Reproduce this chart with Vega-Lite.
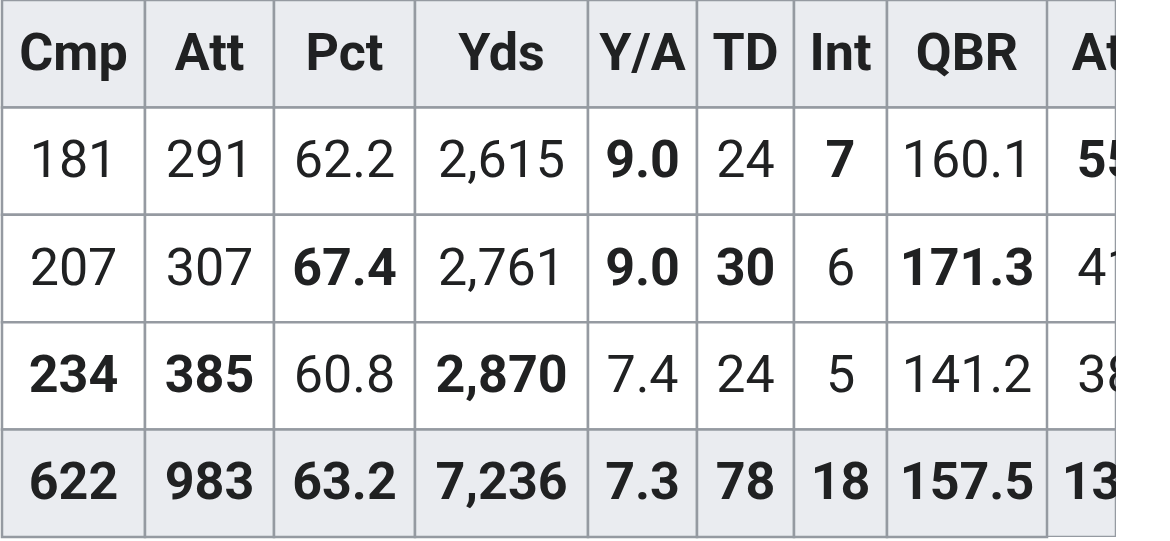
{
  "$schema": "https://vega.github.io/schema/vega-lite/v6.json",
  "background": "white",
  "padding": {"left": 0, "top": -2, "right": 0, "bottom": 0},
  "bounds": "flush",
  "spacing": 0,
  "config": {"view": {"stroke": null}, "concat": {"spacing": 0}},
  "data": {
    "values": [
      {"row": "header", "col": "Cmp", "val": "Cmp"},
      {"row": "header", "col": "Att", "val": "Att"},
      {"row": "header", "col": "Pct", "val": "Pct"},
      {"row": "header", "col": "Yds", "val": "Yds"},
      {"row": "header", "col": "Y/A", "val": "Y/A"},
      {"row": "header", "col": "TD", "val": "TD"},
      {"row": "header", "col": "Int", "val": "Int"},
      {"row": "header", "col": "QBR", "val": "QBR"},
      {"row": "header", "col": "RushAtt", "val": "Att"},

      {"row": "season1", "col": "Cmp", "val": "181"},
      {"row": "season1", "col": "Att", "val": "291"},
      {"row": "season1", "col": "Pct", "val": "62.2"},
      {"row": "season1", "col": "Yds", "val": "2,615"},
      {"row": "season1", "col": "Y/A", "val": "9.0", "lead": true},
      {"row": "season1", "col": "TD", "val": "24"},
      {"row": "season1", "col": "Int", "val": "7", "lead": true},
      {"row": "season1", "col": "QBR", "val": "160.1"},
      {"row": "season1", "col": "RushAtt", "val": "55", "lead": true},

      {"row": "season2", "col": "Cmp", "val": "207"},
      {"row": "season2", "col": "Att", "val": "307"},
      {"row": "season2", "col": "Pct", "val": "67.4", "lead": true},
      {"row": "season2", "col": "Yds", "val": "2,761"},
      {"row": "season2", "col": "Y/A", "val": "9.0", "lead": true},
      {"row": "season2", "col": "TD", "val": "30", "lead": true},
      {"row": "season2", "col": "Int", "val": "6"},
      {"row": "season2", "col": "QBR", "val": "171.3", "lead": true},
      {"row": "season2", "col": "RushAtt", "val": "41"},

      {"row": "season3", "col": "Cmp", "val": "234", "lead": true},
      {"row": "season3", "col": "Att", "val": "385", "lead": true},
      {"row": "season3", "col": "Pct", "val": "60.8"},
      {"row": "season3", "col": "Yds", "val": "2,870", "lead": true},
      {"row": "season3", "col": "Y/A", "val": "7.4"},
      {"row": "season3", "col": "TD", "val": "24"},
      {"row": "season3", "col": "Int", "val": "5"},
      {"row": "season3", "col": "QBR", "val": "141.2"},
      {"row": "season3", "col": "RushAtt", "val": "38"},

      {"row": "career", "col": "Cmp", "val": "622"},
      {"row": "career", "col": "Att", "val": "983"},
      {"row": "career", "col": "Pct", "val": "63.2"},
      {"row": "career", "col": "Yds", "val": "7,236"},
      {"row": "career", "col": "Y/A", "val": "7.3"},
      {"row": "career", "col": "TD", "val": "78"},
      {"row": "career", "col": "Int", "val": "18"},
      {"row": "career", "col": "QBR", "val": "157.5"},
      {"row": "career", "col": "RushAtt", "val": "134"}
    ]
  },
  "hconcat": [
    {
      "width": 143, "height": 537,
      "transform": [{"filter": "datum.col == 'Cmp'"}],
      "encoding": {
        "x": {"field": "col", "type": "nominal", "axis": null, "scale": {"paddingInner": 0, "paddingOuter": 0}},
        "y": {"field": "row", "type": "nominal", "axis": null, "sort": ["header", "season1", "season2", "season3", "career"], "scale": {"paddingInner": 0, "paddingOuter": 0}}
      },
      "layer": [
        {"mark": {"type": "rect", "stroke": "#959aa1", "strokeWidth": 2.5},
         "encoding": {"fill": {"condition": {"test": "datum.row == 'header' || datum.row == 'career'", "value": "#eaecf0"}, "value": "#ffffff"}}},
        {"transform": [{"filter": "datum.lead || datum.row == 'header' || datum.row == 'career'"}],
         "mark": {"type": "text", "font": "Roboto", "fontSize": 52, "fontWeight": "bold", "color": "#202122", "baseline": "middle"},
         "encoding": {"text": {"field": "val"}}},
        {"transform": [{"filter": "!(datum.lead || datum.row == 'header' || datum.row == 'career')"}],
         "mark": {"type": "text", "font": "Roboto", "fontSize": 52, "color": "#202122", "baseline": "middle"},
         "encoding": {"text": {"field": "val"}}}
      ]
    },
    {
      "width": 129, "height": 537,
      "transform": [{"filter": "datum.col == 'Att'"}],
      "encoding": {
        "x": {"field": "col", "type": "nominal", "axis": null, "scale": {"paddingInner": 0, "paddingOuter": 0}},
        "y": {"field": "row", "type": "nominal", "axis": null, "sort": ["header", "season1", "season2", "season3", "career"], "scale": {"paddingInner": 0, "paddingOuter": 0}}
      },
      "layer": [
        {"mark": {"type": "rect", "stroke": "#959aa1", "strokeWidth": 2.5},
         "encoding": {"fill": {"condition": {"test": "datum.row == 'header' || datum.row == 'career'", "value": "#eaecf0"}, "value": "#ffffff"}}},
        {"transform": [{"filter": "datum.lead || datum.row == 'header' || datum.row == 'career'"}],
         "mark": {"type": "text", "font": "Roboto", "fontSize": 52, "fontWeight": "bold", "color": "#202122", "baseline": "middle"},
         "encoding": {"text": {"field": "val"}}},
        {"transform": [{"filter": "!(datum.lead || datum.row == 'header' || datum.row == 'career')"}],
         "mark": {"type": "text", "font": "Roboto", "fontSize": 52, "color": "#202122", "baseline": "middle"},
         "encoding": {"text": {"field": "val"}}}
      ]
    },
    {
      "width": 141, "height": 537,
      "transform": [{"filter": "datum.col == 'Pct'"}],
      "encoding": {
        "x": {"field": "col", "type": "nominal", "axis": null, "scale": {"paddingInner": 0, "paddingOuter": 0}},
        "y": {"field": "row", "type": "nominal", "axis": null, "sort": ["header", "season1", "season2", "season3", "career"], "scale": {"paddingInner": 0, "paddingOuter": 0}}
      },
      "layer": [
        {"mark": {"type": "rect", "stroke": "#959aa1", "strokeWidth": 2.5},
         "encoding": {"fill": {"condition": {"test": "datum.row == 'header' || datum.row == 'career'", "value": "#eaecf0"}, "value": "#ffffff"}}},
        {"transform": [{"filter": "datum.lead || datum.row == 'header' || datum.row == 'career'"}],
         "mark": {"type": "text", "font": "Roboto", "fontSize": 52, "fontWeight": "bold", "color": "#202122", "baseline": "middle"},
         "encoding": {"text": {"field": "val"}}},
        {"transform": [{"filter": "!(datum.lead || datum.row == 'header' || datum.row == 'career')"}],
         "mark": {"type": "text", "font": "Roboto", "fontSize": 52, "color": "#202122", "baseline": "middle"},
         "encoding": {"text": {"field": "val"}}}
      ]
    },
    {
      "width": 173, "height": 537,
      "transform": [{"filter": "datum.col == 'Yds'"}],
      "encoding": {
        "x": {"field": "col", "type": "nominal", "axis": null, "scale": {"paddingInner": 0, "paddingOuter": 0}},
        "y": {"field": "row", "type": "nominal", "axis": null, "sort": ["header", "season1", "season2", "season3", "career"], "scale": {"paddingInner": 0, "paddingOuter": 0}}
      },
      "layer": [
        {"mark": {"type": "rect", "stroke": "#959aa1", "strokeWidth": 2.5},
         "encoding": {"fill": {"condition": {"test": "datum.row == 'header' || datum.row == 'career'", "value": "#eaecf0"}, "value": "#ffffff"}}},
        {"transform": [{"filter": "datum.lead || datum.row == 'header' || datum.row == 'career'"}],
         "mark": {"type": "text", "font": "Roboto", "fontSize": 52, "fontWeight": "bold", "color": "#202122", "baseline": "middle"},
         "encoding": {"text": {"field": "val"}}},
        {"transform": [{"filter": "!(datum.lead || datum.row == 'header' || datum.row == 'career')"}],
         "mark": {"type": "text", "font": "Roboto", "fontSize": 52, "color": "#202122", "baseline": "middle"},
         "encoding": {"text": {"field": "val"}}}
      ]
    },
    {
      "width": 109, "height": 537,
      "transform": [{"filter": "datum.col == 'Y/A'"}],
      "encoding": {
        "x": {"field": "col", "type": "nominal", "axis": null, "scale": {"paddingInner": 0, "paddingOuter": 0}},
        "y": {"field": "row", "type": "nominal", "axis": null, "sort": ["header", "season1", "season2", "season3", "career"], "scale": {"paddingInner": 0, "paddingOuter": 0}}
      },
      "layer": [
        {"mark": {"type": "rect", "stroke": "#959aa1", "strokeWidth": 2.5},
         "encoding": {"fill": {"condition": {"test": "datum.row == 'header' || datum.row == 'career'", "value": "#eaecf0"}, "value": "#ffffff"}}},
        {"transform": [{"filter": "datum.lead || datum.row == 'header' || datum.row == 'career'"}],
         "mark": {"type": "text", "font": "Roboto", "fontSize": 52, "fontWeight": "bold", "color": "#202122", "baseline": "middle"},
         "encoding": {"text": {"field": "val"}}},
        {"transform": [{"filter": "!(datum.lead || datum.row == 'header' || datum.row == 'career')"}],
         "mark": {"type": "text", "font": "Roboto", "fontSize": 52, "color": "#202122", "baseline": "middle"},
         "encoding": {"text": {"field": "val"}}}
      ]
    },
    {
      "width": 97, "height": 537,
      "transform": [{"filter": "datum.col == 'TD'"}],
      "encoding": {
        "x": {"field": "col", "type": "nominal", "axis": null, "scale": {"paddingInner": 0, "paddingOuter": 0}},
        "y": {"field": "row", "type": "nominal", "axis": null, "sort": ["header", "season1", "season2", "season3", "career"], "scale": {"paddingInner": 0, "paddingOuter": 0}}
      },
      "layer": [
        {"mark": {"type": "rect", "stroke": "#959aa1", "strokeWidth": 2.5},
         "encoding": {"fill": {"condition": {"test": "datum.row == 'header' || datum.row == 'career'", "value": "#eaecf0"}, "value": "#ffffff"}}},
        {"transform": [{"filter": "datum.lead || datum.row == 'header' || datum.row == 'career'"}],
         "mark": {"type": "text", "font": "Roboto", "fontSize": 52, "fontWeight": "bold", "color": "#202122", "baseline": "middle"},
         "encoding": {"text": {"field": "val"}}},
        {"transform": [{"filter": "!(datum.lead || datum.row == 'header' || datum.row == 'career')"}],
         "mark": {"type": "text", "font": "Roboto", "fontSize": 52, "color": "#202122", "baseline": "middle"},
         "encoding": {"text": {"field": "val"}}}
      ]
    },
    {
      "width": 93, "height": 537,
      "transform": [{"filter": "datum.col == 'Int'"}],
      "encoding": {
        "x": {"field": "col", "type": "nominal", "axis": null, "scale": {"paddingInner": 0, "paddingOuter": 0}},
        "y": {"field": "row", "type": "nominal", "axis": null, "sort": ["header", "season1", "season2", "season3", "career"], "scale": {"paddingInner": 0, "paddingOuter": 0}}
      },
      "layer": [
        {"mark": {"type": "rect", "stroke": "#959aa1", "strokeWidth": 2.5},
         "encoding": {"fill": {"condition": {"test": "datum.row == 'header' || datum.row == 'career'", "value": "#eaecf0"}, "value": "#ffffff"}}},
        {"transform": [{"filter": "datum.lead || datum.row == 'header' || datum.row == 'career'"}],
         "mark": {"type": "text", "font": "Roboto", "fontSize": 52, "fontWeight": "bold", "color": "#202122", "baseline": "middle"},
         "encoding": {"text": {"field": "val"}}},
        {"transform": [{"filter": "!(datum.lead || datum.row == 'header' || datum.row == 'career')"}],
         "mark": {"type": "text", "font": "Roboto", "fontSize": 52, "color": "#202122", "baseline": "middle"},
         "encoding": {"text": {"field": "val"}}}
      ]
    },
    {
      "width": 160, "height": 537,
      "transform": [{"filter": "datum.col == 'QBR'"}],
      "encoding": {
        "x": {"field": "col", "type": "nominal", "axis": null, "scale": {"paddingInner": 0, "paddingOuter": 0}},
        "y": {"field": "row", "type": "nominal", "axis": null, "sort": ["header", "season1", "season2", "season3", "career"], "scale": {"paddingInner": 0, "paddingOuter": 0}}
      },
      "layer": [
        {"mark": {"type": "rect", "stroke": "#959aa1", "strokeWidth": 2.5},
         "encoding": {"fill": {"condition": {"test": "datum.row == 'header' || datum.row == 'career'", "value": "#eaecf0"}, "value": "#ffffff"}}},
        {"transform": [{"filter": "datum.lead || datum.row == 'header' || datum.row == 'career'"}],
         "mark": {"type": "text", "font": "Roboto", "fontSize": 52, "fontWeight": "bold", "color": "#202122", "baseline": "middle"},
         "encoding": {"text": {"field": "val"}}},
        {"transform": [{"filter": "!(datum.lead || datum.row == 'header' || datum.row == 'career')"}],
         "mark": {"type": "text", "font": "Roboto", "fontSize": 52, "color": "#202122", "baseline": "middle"},
         "encoding": {"text": {"field": "val"}}}
      ]
    },
    {
      "width": 69, "height": 537,
      "transform": [{"filter": "datum.col == 'RushAtt'"}],
      "encoding": {
        "x": {"field": "col", "type": "nominal", "axis": null, "scale": {"paddingInner": 0, "paddingOuter": 0}},
        "y": {"field": "row", "type": "nominal", "axis": null, "sort": ["header", "season1", "season2", "season3", "career"], "scale": {"paddingInner": 0, "paddingOuter": 0}}
      },
      "layer": [
        {"mark": {"type": "rect", "stroke": "#959aa1", "strokeWidth": 2.5, "x2Offset": 6, "clip": true},
         "encoding": {"fill": {"condition": {"test": "datum.row == 'header' || datum.row == 'career'", "value": "#eaecf0"}, "value": "#ffffff"}}},
        {"transform": [{"filter": "datum.lead || datum.row == 'header' || datum.row == 'career'"}],
         "mark": {"type": "text", "font": "Roboto", "fontSize": 52, "fontWeight": "bold", "color": "#202122", "baseline": "middle", "dx": 25, "clip": true},
         "encoding": {"text": {"field": "val"}}},
        {"transform": [{"filter": "!(datum.lead || datum.row == 'header' || datum.row == 'career')"}],
         "mark": {"type": "text", "font": "Roboto", "fontSize": 52, "color": "#202122", "baseline": "middle", "dx": 25, "clip": true},
         "encoding": {"text": {"field": "val"}}}
      ]
    }
  ]
}
